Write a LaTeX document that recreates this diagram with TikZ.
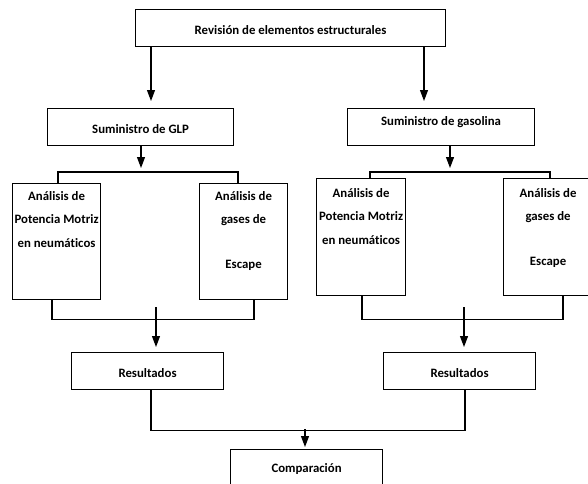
\documentclass[tikz,border=0pt]{standalone}
\usepackage{fontspec}
\setmainfont{Carlito}[Ligatures=NoCommon]
\usetikzlibrary{arrows.meta}
\begin{document}
\begin{tikzpicture}[x=1pt,y=-1pt,
  bx/.style={draw, line width=1.1pt, inner sep=0pt, anchor=north west, align=center,
    font=\bfseries\fontsize{12.8}{23.5}\selectfont},
  ln/.style={line width=1.1pt},
  arr/.style={line width=1.1pt, -{Triangle[length=11pt,width=8pt]}}]
\fill[white] (0,0) rectangle (588,483);
\useasboundingbox (0,0) rectangle (588,483);
\begin{scope}
\clip (0,0) rectangle (588,483);
% boxes
\node[bx, minimum width=310pt, text height=24.5pt, text depth=12.5pt] (top) at (135,9) {Revisión de elementos estructurales};
\node[bx, minimum width=186pt, text height=24.5pt, text depth=12.5pt] (glp) at (47,108) {Suministro de GLP};
\node[bx, minimum width=187pt, text height=16.5pt, text depth=20.5pt] (gas) at (347,108) {Suministro de gasolina};
\node[bx, minimum width=88pt, text height=63.5pt, text depth=52.5pt] (a1) at (12,183) {Análisis de\\Potencia Motriz\\en neumáticos};
\node[bx, minimum width=88pt, text height=84.5pt, text depth=31.5pt] (a2) at (199,183) {Análisis de\\gases de\\[21pt]Escape};
\node[bx, minimum width=89pt, text height=65.5pt, text depth=51.5pt] (r1) at (316,178) {Análisis de\\Potencia Motriz\\en neumáticos};
\node[bx, minimum width=89pt, text height=86.5pt, text depth=30.5pt] (r2) at (503,178) {Análisis de\\gases de\\[21pt]Escape};
\node[bx, minimum width=152pt, text height=25pt, text depth=12pt] (resl) at (71,352) {Resultados};
\node[bx, minimum width=152pt, text height=25pt, text depth=12pt] (resr) at (383,352) {Resultados};
\node[bx, minimum width=152pt, text height=22.5pt, text depth=18.5pt] (comp) at (230,449) {Comparación};
% helper coordinates
\coordinate (c1) at (151,0);
\coordinate (c2) at (424,0);
\coordinate (c3) at (141,168);
\coordinate (c4) at (450,168);
\coordinate (k58) at (58,0);
\coordinate (k238) at (238,0);
\coordinate (k370) at (370,0);
\coordinate (k550) at (550,0);
\coordinate (k52) at (52,0);
\coordinate (k254) at (254,0);
\coordinate (k362) at (362,0);
\coordinate (k563) at (563,0);
\coordinate (k151) at (151,0);
\coordinate (k465) at (465,0);
\coordinate (s1) at (156,307);
\coordinate (s2) at (464,307);
\coordinate (s3) at (305,429);
% connectors
\draw[arr, shorten >=7pt] (top.south -| c1) -- (glp.north -| c1);
\draw[arr, shorten >=7pt] (top.south -| c2) -- (gas.north -| c2);
\draw[arr] (glp.south -| c3) -- (c3);
\draw[arr] (gas.south -| c4) -- (c4);
\draw[ln] (a1.north -| k58) -- ++(0,-11) -| (a2.north -| k238);
\draw[ln] (r1.north -| k370) -- ++(0,-6) -| (r2.north -| k550);
\draw[ln] (a1.south -| k52) -- ++(0,19) -| (a2.south -| k254);
\draw[ln] (r1.south -| k362) -- ++(0,23) -| (r2.south -| k563);
\draw[arr, shorten >=5pt] (s1) -- (s1 |- resl.north);
\draw[arr, shorten >=5pt] (s2) -- (s2 |- resr.north);
\draw[ln] (resl.south -| k151) -- ++(0,40) -| (resr.south -| k465);
\draw[arr, shorten >=2pt] (s3) -- (s3 |- comp.north);
\end{scope}
\end{tikzpicture}
\end{document}
